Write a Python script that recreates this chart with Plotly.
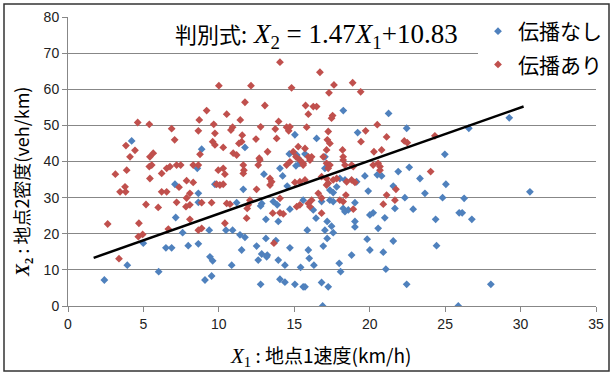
import plotly.graph_objects as go

# ---- data ----
no_prop_x = [4.22, 15.04, 16.48, 11.73, 8.86, 14.67, 15.71,
             18.25, 21.25, 22.45, 19.2, 17.03, 24.98, 29.25, 26.57,
             8.57, 7.09, 8.64, 8.64, 7.14, 7.6, 4.99, 6.49, 6.87, 7.97, 8.64, 3.93, 6.01, 2.41,
             15.16, 15.26, 12.99, 14.05, 14.23, 15.11, 15.37, 14.53, 17.03, 9.74, 11.62, 11.18,
             12.84, 12.77, 13.61, 13.87, 14.71, 15.59, 16.26, 16.44, 17.18, 13.12, 13.94, 9.36,
             10.47, 10.91, 11.4, 11.73, 13.12, 13.78, 15.86, 17.03, 12.5, 11.51, 14.71, 15.93,
             17.18, 12.84, 13.21, 13.17, 12.61, 13.94, 9.41, 9.59, 10.85, 14.38, 15.42, 15.99,
             16.3, 9.08, 9.52, 12.77, 14.05, 14.38, 15.04, 15.59, 15.71, 17.25, 16.88,
             22.62, 21.89, 19.68, 20.5, 20.79, 23.33, 25.05, 18.02, 18.36, 19.13, 17.36, 17.58,
             17.81, 19.9, 21.56, 22.33, 23.66, 24.83, 17.36, 17.58, 16.81, 18.24, 18.36, 18.58,
             19.02, 21.67, 22.88, 20.01, 20.23, 21.0, 24.37, 25.93, 19.02, 19.02, 20.56, 17.47,
             17.58, 19.83, 21.56, 16.92, 20.01, 20.9, 24.43, 18.8, 17.98, 18.07, 21.07, 16.81,
             22.45, 30.62, 26.26, 26.13, 26.77, 28.03, 25.87]
no_prop_y = [45.7, 47.4, 46.4, 43.9, 43.4, 42.1, 42.1,
             54.1, 53.3, 49.2, 48.0, 41.3, 42.0, 52.1, 49.2,
             38.1, 33.7, 31.2, 28.7, 24.5, 20.3, 17.4, 16.1, 16.1, 16.7, 17.2, 11.3, 9.5, 7.2,
             41.8, 40.9, 36.5, 38.1, 36.0, 38.8, 39.5, 33.2, 38.1, 33.7, 32.3, 28.6,
             28.4, 27.7, 28.9, 28.0, 26.8, 29.3, 26.6, 24.3, 23.4, 24.0, 23.4, 21.0,
             21.0, 21.0, 19.7, 19.0, 18.7, 18.1, 21.0, 21.0, 16.6, 15.5, 16.1, 15.5,
             18.7, 14.4, 14.1, 13.6, 12.7, 12.7, 13.6, 12.5, 11.3, 11.3, 10.7, 13.2,
             11.3, 7.2, 8.3, 6.0, 7.4, 6.6, 6.0, 5.3, 5.3, 5.3, 0.0,
             38.4, 37.2, 36.0, 36.3, 36.0, 35.3, 33.7, 35.3, 34.9, 34.4, 32.1, 31.4,
             33.0, 31.8, 33.2, 30.0, 31.2, 30.0, 29.3, 28.9, 28.9, 27.0, 26.1, 26.6,
             28.6, 27.0, 26.8, 25.2, 25.8, 24.4, 24.0, 25.8, 23.4, 21.9, 21.5, 22.1,
             20.3, 18.5, 18.0, 16.6, 15.5, 14.9, 16.7, 14.1, 11.8, 9.5, 10.2, 6.5,
             6.0, 31.6, 29.8, 25.8, 24.0, 6.0, 0.0]

prop_x = [4.62, 5.39, 6.87, 7.07, 3.84, 4.44, 4.11, 5.43, 5.65, 8.70, 8.64,
          14.05, 16.7, 10.0, 12.13, 14.82, 17.3, 11.73, 13.05, 9.19, 10.52, 11.42, 10.91,
          10.8, 9.66, 9.74, 12.77, 13.96, 13.74, 14.49, 14.71, 14.63, 15.82, 15.75, 16.26,
          16.48, 15.93, 17.25, 8.75, 9.59, 9.74, 10.29, 11.55, 11.33, 11.51, 12.46, 10.95,
          13.23, 12.68, 13.83, 15.26, 15.71, 15.93, 17.14, 16.92, 15.11,
          17.63, 18.87, 19.40, 17.54, 17.47, 20.5, 19.73, 19.42, 21.12, 22.29, 22.49, 24.32,
          17.19, 17.36, 18.2, 18.24, 20.28, 20.79,
          5.39, 5.55, 3.14, 3.89, 3.45, 3.78, 3.82, 5.43, 6.21, 6.54, 6.76, 7.2, 7.47, 8.3,
          7.36, 7.86, 8.3, 6.21, 6.54, 7.86, 7.2, 5.17, 5.98, 7.82, 8.08, 8.08, 2.63, 4.7,
          6.65, 8.64, 4.66, 4.95, 3.38,
          11.18, 14.93, 15.37, 15.59, 16.15, 8.64, 9.96, 10.29, 10.4, 11.62, 11.66, 11.62,
          12.61, 12.72, 13.39, 13.5, 13.39, 14.49, 14.71, 15.59, 16.04, 15.04, 15.37, 15.71,
          16.59, 16.81, 16.04, 9.85, 10.07, 10.29, 12.5, 8.08, 8.86, 9.52, 10.52, 10.74,
          11.95, 11.88, 12.06, 14.05, 13.57, 14.05, 14.27, 15.16, 15.37, 15.93, 16.15, 16.81,
          11.84, 10.4, 8.86, 13.65,
          18.24, 18.36, 17.14, 17.36, 17.25, 18.8, 18.91, 20.23, 20.56, 20.68, 20.68, 24.04,
          16.81, 17.14, 17.25, 17.58, 17.81, 18.47, 18.8, 19.02, 17.14, 21.74, 21.12, 18.42,
          21.67, 20.9, 18.02, 18.24, 18.91]
prop_y = [50.8, 50.3, 49.1, 46.0, 44.4, 43.1, 41.3, 41.3, 42.3, 51.5, 48.5,
          67.5, 64.7, 61.0, 61.0, 60.4, 59.0, 56.4, 55.5, 54.1, 53.1, 51.5, 49.5,
          48.7, 50.3, 47.8, 49.6, 51.1, 49.0, 49.5, 49.6, 48.5, 49.5, 55.5, 55.2,
          55.2, 53.1, 48.3, 42.0, 45.5, 44.6, 43.9, 47.3, 45.0, 45.5, 46.2, 42.3,
          42.7, 40.9, 46.4, 44.1, 43.6, 41.3, 43.2, 41.3, 41.3,
          61.2, 61.8, 59.3, 52.7, 52.0, 50.2, 48.5, 45.5, 46.8, 45.7, 45.2, 47.1,
          46.0, 45.0, 43.2, 41.3, 42.7, 43.2,
          38.6, 39.0, 36.5, 37.6, 31.6, 33.0, 31.6, 35.3, 36.7, 38.1, 38.6, 39.0, 39.0, 39.0,
          32.9, 34.7, 34.2, 31.6, 31.6, 29.9, 28.7, 28.1, 27.3, 27.5, 28.0, 24.0, 22.7, 22.9,
          21.3, 21.0, 19.2, 19.8, 13.1,
          41.8, 42.7, 40.4, 39.5, 41.3, 39.0, 37.6, 38.1, 36.5, 39.0, 37.6, 36.7,
          39.0, 40.4, 35.3, 34.4, 33.5, 39.0, 39.9, 39.0, 40.4, 34.2, 34.4, 34.9,
          31.2, 29.9, 27.5, 33.7, 33.5, 33.7, 32.3, 31.2, 28.6, 28.6, 28.4, 28.2,
          28.0, 27.0, 29.3, 29.8, 25.7, 25.8, 25.5, 27.5, 28.0, 28.4, 29.3, 25.7,
          24.3, 22.9, 21.5, 17.4,
          40.4, 39.0, 39.5, 39.0, 38.1, 39.0, 38.6, 39.0, 39.5, 38.6, 37.6, 37.2,
          35.8, 35.3, 34.0, 34.9, 35.3, 34.4, 34.9, 34.2, 33.5, 32.3, 30.7, 30.7,
          29.3, 28.2, 29.3, 28.9, 26.8]

series_names = ["伝播なし", "伝播あり"]
slope = 1.47
intercept = 10.83
line_x_range = [1.7, 30.2]

x_ticks = [0, 5, 10, 15, 20, 25, 30, 35]
y_ticks = [0, 10, 20, 30, 40, 50, 60, 70, 80]

BLUE = "#4F81BD"
RED = "#C0504D"
GRID = "#878787"
SERIF = "Liberation Serif"
SANS = "Noto Sans CJK JP"

fig = go.Figure()
fig.add_trace(go.Scatter(x=no_prop_x, y=no_prop_y, mode="markers", name=series_names[0],
                         marker=dict(symbol="diamond", size=6, color=BLUE),
                         legendgroup="a"))
fig.add_trace(go.Scatter(x=prop_x, y=prop_y, mode="markers", name=series_names[1],
                         marker=dict(symbol="diamond", size=6, color=RED),
                         legendgroup="b"))
fig.add_trace(go.Scatter(x=line_x_range, y=[slope * v + intercept for v in line_x_range],
                         mode="lines", line=dict(color="black", width=2.5),
                         showlegend=False, hoverinfo="skip"))

W, H = 613, 376
L, R, T, B = 68, 17, 17, 70
pw, ph = W - L - R, H - T - B


def px(xp):
    return (xp - L) / pw


def py(yp):
    return (H - B - yp) / ph


fig.update_layout(
    width=W, height=H,
    margin=dict(l=L, r=R, t=T, b=B, pad=0, autoexpand=False),
    paper_bgcolor="white", plot_bgcolor="white",
    font=dict(family=SANS, color="black"),
    showlegend=True,
    legend=dict(x=px(478), y=py(11), xanchor="left", yanchor="top",
                bgcolor="white", font=dict(size=21, family=SANS),
                traceorder="grouped", tracegroupgap=3, itemwidth=30,
                borderwidth=0),
    xaxis=dict(range=[0, 35], tickvals=x_ticks, ticktext=[str(v) for v in x_ticks],
               showgrid=False, zeroline=False, showline=True, linecolor=GRID, linewidth=1,
               ticks="outside", ticklen=5, tickcolor=GRID, automargin=False,
               tickfont=dict(size=14, family="Liberation Sans", color="#222")),
    yaxis=dict(range=[0, 80], tickvals=y_ticks, ticktext=[str(v) for v in y_ticks],
               showgrid=True, gridcolor=GRID, gridwidth=1, zeroline=False,
               showline=True, linecolor=GRID, linewidth=1, automargin=False,
               ticks="outside", ticklen=5, tickcolor=GRID,
               tickfont=dict(size=14, family="Liberation Sans", color="#222")),
)

# axis titles
fig.add_annotation(
    xref="paper", yref="paper", x=px(320), y=py(355), xanchor="center", yanchor="middle",
    showarrow=False,
    text=f"<span style='font-family:{SERIF};font-size:21px'><i>X</i><sub>1</sub></span> : 地点1速度(km/h)",
    font=dict(size=19, family=SANS))
fig.add_annotation(
    xref="paper", yref="paper", x=px(22), y=py(182), xanchor="center", yanchor="middle",
    showarrow=False, textangle=-90,
    text=f"<span style='font-family:{SERIF}'><b><i>X</i><sub>2</sub></b></span> : 地点2密度(veh/km)",
    font=dict(size=18, family=SANS))

# equation text
fig.add_annotation(
    xref="paper", yref="paper", x=px(316), y=py(35), xanchor="center", yanchor="middle",
    showarrow=False,
    text=(f"判別式:<span style='font-family:{SERIF};font-size:27px'> <i>X</i><sub>2</sub>"
          f" = {slope:.2f}<i>X</i><sub>1</sub>+{intercept:.2f}</span>"),
    font=dict(size=22, family=SANS))

# chart outer border
fig.add_shape(type="rect", xref="paper", yref="paper",
              x0=px(4), x1=px(609), y0=py(371), y1=py(4),
              line=dict(color="#333", width=1.5), layer="below")

fig.write_html("out.html", config={"displayModeBar": False},
               post_script="document.body.style.margin='0';")
